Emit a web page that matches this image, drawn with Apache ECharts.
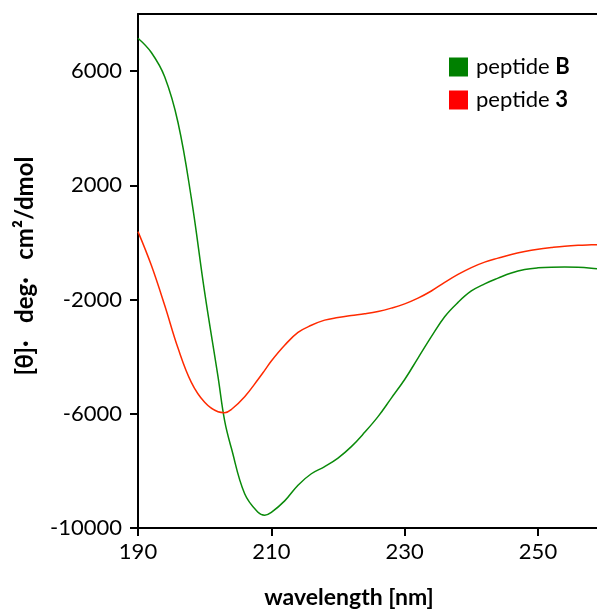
<!DOCTYPE html>
<html>
<head>
<meta charset="utf-8">
<script src="https://cdn.jsdelivr.net/npm/echarts@6/dist/echarts.min.js"></script>
<style>
html, body { margin: 0; padding: 0; background: #fff; }
#chart { width: 597px; height: 613px; }
</style>
</head>
<body>
<div id="chart"></div>
<script>
// wavelength in nm
var wavelengths = [190, 192, 194, 196, 198, 200, 202, 203, 204, 206, 208, 209, 210, 212, 214, 216, 218, 220, 222, 224,
	226, 228, 230, 232, 234, 236, 238, 240, 242, 244, 246, 248, 250, 252, 254, 256, 258, 259];
// peptide B (green)
var peptideB = [7150, 6650, 5800, 4200, 1550, -1750, -4700, -6250, -7200, -8800, -9450, -9550, -9450, -9050, -8500, -8100, -7850, -7550, -7150, -6650,
	-6100, -5450, -4800, -4050, -3300, -2600, -2100, -1700, -1450, -1250, -1070, -950, -890, -865, -860, -870, -900, -925];
// peptide 3 (red)
var peptide3 = [380, -800, -2200, -3700, -4900, -5600, -5930, -5960, -5850, -5400, -4800, -4480, -4150, -3600, -3150, -2900, -2720, -2630, -2560, -2500,
	-2420, -2300, -2150, -1950, -1700, -1400, -1120, -880, -690, -550, -420, -320, -240, -180, -130, -100, -85, -80];
var xTicks = [190, 210, 230, 250];
var yTicks = [-10000, -6000, -2000, 2000, 6000];

function pairs(values) {
	var out = [];
	for (var i = 0; i < wavelengths.length; i++) {
		out.push([wavelengths[i], values[i]]);
	}
	return out;
}

var myChart = echarts.init(document.getElementById('chart'));
var option = {
	animation: false,
	backgroundColor: '#fff',
	textStyle: { fontFamily: 'Lato' },
	grid: { left: 138, top: 14, right: -1, bottom: 85, containLabel: false, outerBoundsMode: 'none' },
	legend: {
		orient: 'vertical',
		left: 444,
		top: 51,
		icon: 'rect',
		itemWidth: 19,
		itemHeight: 19,
		itemGap: 11,
		data: ['B', '3'],
		formatter: function(name) {
			return '{n|peptide }{b|' + name + '}';
		},
		textStyle: {
			padding: [0, 0, 0, 3],
			rich: {
				n: { fontFamily: 'Lato', fontSize: 22, color: '#000' },
				b: { fontFamily: 'Lato', fontSize: 22, fontWeight: 'bold', color: '#000' }
			}
		}
	},
	xAxis: [{
		type: 'value',
		min: 190,
		max: 259,
		interval: 20,
		name: 'wavelength [nm]',
		nameLocation: 'middle',
		nameGap: 58,
		nameTextStyle: { fontFamily: 'Lato', fontSize: 23, fontWeight: 'bold', color: '#000', padding: [0, 38, 0, 0] },
		axisLine: { onZero: false, lineStyle: { color: '#000', width: 2 } },
		axisTick: { show: true, length: 8, lineStyle: { color: '#000', width: 2 }, customValues: xTicks },
		axisLabel: { fontFamily: 'Lato', fontSize: 22, color: '#000', margin: 13, customValues: xTicks },
		splitLine: { show: false }
	}, {
		type: 'value',
		position: 'top',
		min: 190,
		max: 259,
		axisLine: { show: true, onZero: false, lineStyle: { color: '#000', width: 2 } },
		axisTick: { show: false },
		axisLabel: { show: false },
		splitLine: { show: false }
	}],
	yAxis: {
		type: 'value',
		min: -10000,
		max: 8000,
		interval: 4000,
		name: '[θ]·   deg·   cm²/dmol',
		nameLocation: 'middle',
		nameGap: 101,
		nameTextStyle: { fontFamily: 'Lato', fontSize: 24, fontWeight: 'bold', color: '#000', padding: [0, 0, 0, 10] },
		axisLine: { onZero: false, lineStyle: { color: '#000', width: 2 } },
		axisTick: { show: true, length: 8, lineStyle: { color: '#000', width: 2 }, customValues: yTicks },
		axisLabel: {
			fontFamily: 'Lato', fontSize: 22, color: '#000', margin: 16, customValues: yTicks,
			formatter: function(v) { return String(v); }
		},
		splitLine: { show: false }
	},
	series: [{
		name: 'B',
		type: 'line',
		smooth: 0.4,
		showSymbol: false,
		color: '#008000',
		lineStyle: { width: 1.5, color: '#0a8a0a' },
		data: pairs(peptideB)
	}, {
		name: '3',
		type: 'line',
		smooth: 0.4,
		showSymbol: false,
		color: '#ff0000',
		lineStyle: { width: 1.5, color: '#ff2a00' },
		data: pairs(peptide3)
	}]
};
myChart.setOption(option);
window.onresize = function() {
	myChart.resize();
};
</script>
</body>
</html>
